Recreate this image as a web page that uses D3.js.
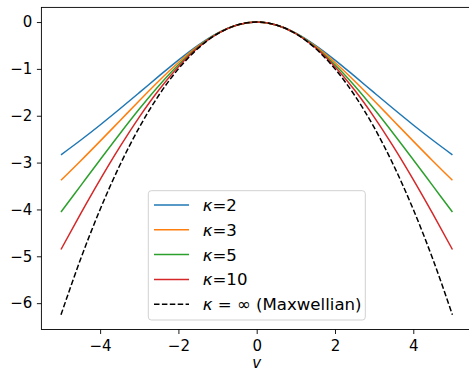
<!DOCTYPE html>
<html>
<head>
<meta charset="utf-8">
<script src="https://cdn.jsdelivr.net/npm/d3@7"></script>
<style>
  body { margin: 0; background: #fff; }
  svg { display: block; font-family: "DejaVu Sans", sans-serif; }
</style>
</head>
<body>
<div id="chart"></div>
<script>
// sample points along v (log of normalised pdf)
const vs = [-5, -4.5, -4, -3.5, -3, -2.5, -2, -1.5, -1, -0.5, 0,
            0.5, 1, 1.5, 2, 2.5, 3, 3.5, 4, 4.5, 5];

const kappa2 = [-2.834, -2.523, -2.197, -1.857, -1.508, -1.155, -0.811, -0.496, -0.236, -0.062, 0,
                -0.062, -0.236, -0.496, -0.811, -1.155, -1.508, -1.857, -2.197, -2.523, -2.834];
const kappa3 = [-3.378, -2.966, -2.542, -2.111, -1.679, -1.258, -0.863, -0.516, -0.240, -0.062, 0,
                -0.062, -0.240, -0.516, -0.863, -1.258, -1.679, -2.111, -2.542, -2.966, -3.378];
const kappa5 = [-4.055, -3.497, -2.939, -2.389, -1.858, -1.360, -0.912, -0.533, -0.244, -0.062, 0,
                -0.062, -0.244, -0.533, -0.912, -1.360, -1.858, -2.389, -2.939, -3.497, -4.055];
const kappa10 = [-4.855, -4.096, -3.365, -2.672, -2.029, -1.452, -0.953, -0.547, -0.247, -0.062, 0,
                 -0.062, -0.247, -0.547, -0.953, -1.452, -2.029, -2.672, -3.365, -4.096, -4.855];
const maxwell = [-6.25, -5.0625, -4, -3.0625, -2.25, -1.5625, -1, -0.5625, -0.25, -0.0625, 0,
                 -0.0625, -0.25, -0.5625, -1, -1.5625, -2.25, -3.0625, -4, -5.0625, -6.25];

// legend labels: [math part, plain part]
const seriesNames = [['κ', '=2'], ['κ', '=3'], ['κ', '=5'], ['κ', '=10'], ['κ', ' = ∞ (Maxwellian)']];
const seriesColors = ['#1f77b4', '#ff7f0e', '#2ca02c', '#d62728', '#000000'];
const seriesValues = [kappa2, kappa3, kappa5, kappa10, maxwell];

const xTicks = [-4, -2, 0, 2, 4];
const yTicks = [0, -1, -2, -3, -4, -5, -6];

const width = 469, height = 371;
const margin = { left: 41.4, top: 7.4, right: -3, bottom: 41.5 };

const svg = d3.select('#chart').append('svg')
  .attr('width', width)
  .attr('height', height);

const x = d3.scaleLinear()
  .domain([-5.5, 5.5])
  .range([margin.left, width - margin.right]);

const y = d3.scaleLinear()
  .domain([-6.5625, 0.3125])
  .range([height - margin.bottom, margin.top]);

const line = d3.line()
  .x((d, i) => x(vs[i]))
  .y(d => y(d))
  .curve(d3.curveMonotoneX);

svg.append('g')
  .selectAll('path')
  .data(seriesValues)
  .enter().append('path')
    .attr('d', line)
    .attr('fill', 'none')
    .attr('stroke', (d, i) => seriesColors[i])
    .attr('stroke-width', 1.5)
    .attr('stroke-dasharray', (d, i) => i === 4 ? '5.5,2.4' : null);

// frame
svg.append('rect')
  .attr('x', x.range()[0])
  .attr('y', y.range()[1])
  .attr('width', x.range()[1] - x.range()[0])
  .attr('height', y.range()[0] - y.range()[1])
  .attr('fill', 'none')
  .attr('stroke', '#000')
  .attr('stroke-width', 0.9);

const fmt = d3.format('d');
const xAxis = d3.axisBottom(x).tickValues(xTicks).tickFormat(fmt).tickSize(4.5).tickPadding(6);
const yAxis = d3.axisLeft(y).tickValues(yTicks).tickFormat(fmt).tickSize(4.5).tickPadding(4.5);

const gx = svg.append('g')
  .attr('transform', `translate(0,${y.range()[0]})`)
  .call(xAxis);
const gy = svg.append('g')
  .attr('transform', `translate(${x.range()[0]},0)`)
  .call(yAxis);

[gx, gy].forEach(g => {
  g.select('.domain').remove();
  g.selectAll('.tick line').attr('stroke', '#000').attr('stroke-width', 0.9);
  g.selectAll('.tick text')
    .attr('fill', '#000')
    .attr('font-size', 15)
    .attr('font-family', '"DejaVu Sans", sans-serif');
});

svg.append('text')
  .attr('x', x(0))
  .attr('y', 367.5)
  .attr('text-anchor', 'middle')
  .attr('font-size', 15)
  .attr('font-style', 'italic')
  .text('v');

// legend
const legend = svg.append('g');
legend.append('rect')
  .attr('x', 148.3)
  .attr('y', 190.7)
  .attr('width', 217)
  .attr('height', 129.3)
  .attr('rx', 3)
  .attr('fill', '#fff')
  .attr('fill-opacity', 0.8)
  .attr('stroke', '#ccc')
  .attr('stroke-width', 0.9);

const rows = legend.selectAll('g.row')
  .data(seriesNames)
  .enter().append('g')
    .attr('class', 'row')
    .attr('transform', (d, i) => `translate(0,${205 + i * 24.8})`);

rows.append('line')
  .attr('x1', 154)
  .attr('x2', 189)
  .attr('stroke', (d, i) => seriesColors[i])
  .attr('stroke-width', 1.5)
  .attr('stroke-dasharray', (d, i) => i === 4 ? '5.5,2.4' : null);

const label = rows.append('text')
  .attr('x', 202.7)
  .attr('dy', '0.36em')
  .attr('font-size', 16.6)
  .attr('xml:space', 'preserve')
  .style('white-space', 'pre');
label.append('tspan').attr('font-style', 'italic').text(d => d[0]);
label.append('tspan').text(d => d[1]);
</script>
</body>
</html>
